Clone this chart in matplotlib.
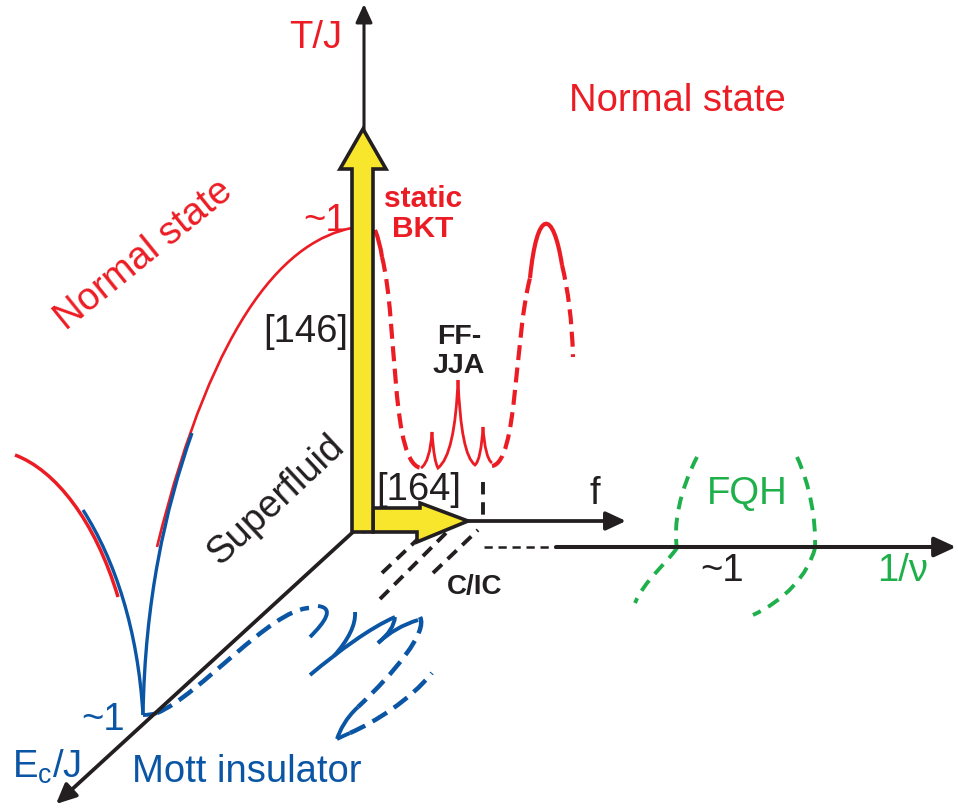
import numpy as np
import matplotlib.pyplot as plt
from matplotlib.path import Path
from matplotlib.patches import PathPatch, Polygon, FancyArrowPatch

plt.rcParams['font.family'] = ['Liberation Sans', 'DejaVu Sans']
plt.rcParams['mathtext.fontset'] = 'custom'
plt.rcParams['mathtext.rm'] = 'Liberation Sans'

RED = '#ec1c24'
BLUE = '#0b55a5'
GREEN = '#1fb04b'
YEL = '#f7e62c'
INK = '#231f20'

# schematic drawn in pixel coordinates of the original figure (y downwards)
tj_axis = [(364, 532), (364, 4)]
f_axis = [(468, 521), (626, 521)]
nu_axis = [(556, 547), (956, 547)]
nu_dash = [(484, 547), (556, 547)]
ec_axis = [(353, 532), (56, 804)]

yellow_up = [(352, 532), (352, 169), (340, 169), (363, 129), (386, 169),
             (373, 169), (373, 532)]
yellow_right = [(373, 508), (420, 508), (420, 503), (468, 521), (417, 542),
                (417, 532), (373, 532)]

# red phase boundaries (bezier control points)
red_arc = [(352, 228), (290, 240), (215, 310), (157, 547)]
red_left = [(15, 455), (55, 470), (95, 520), (118, 597)]
red_bkt_top = [(375, 230), (380, 242), (382, 257)]
red_dash_l = [(382, 257), (398, 320), (390, 470), (423, 468)]
red_cusps = [(421, 468), (430, 462), (432, 432), (434, 462), (438, 468),
             (455, 455), (458, 380), (461, 455), (475, 465),
             (481, 460), (483, 427), (485, 458), (492, 463)]
red_dash_r = [(492, 466), (518, 462), (514, 340), (530, 278)]
red_peak = [(530, 278), (537, 208), (553, 208), (562, 265)]
red_dash_end = [(562, 265), (568, 290), (572, 320), (573, 357)]

# blue Mott boundaries
blue_right = [(192, 433), (165, 510), (145, 600), (143, 715)]
blue_left = [(83, 510), (115, 560), (138, 630), (143, 715)]
blue_foot = [(143, 715), (150, 715), (157, 713)]
blue_dash = [(157, 713), (200, 695), (270, 610), (309, 608)]
blue_hook = [(310, 637), (325, 622), (335, 608), (318, 606)]
blue_long = [(310, 675), (340, 650), (370, 628), (395, 617)]
blue_cusp = [(355, 612), (356, 625), (348, 640), (334, 656)]
blue_d = [(395, 617), (394, 630), (378, 643)]
blue_e = [(378, 643), (395, 627), (418, 620)]
blue_dash_up = [(420, 617), (428, 632), (395, 672), (358, 707)]
blue_tip = [(358, 707), (346, 718), (340, 730), (337, 739)]
blue_tip2 = [(337, 739), (343, 736), (350, 733)]
blue_dash_low = [(350, 733), (375, 722), (410, 700), (432, 673)]

# green FQH boundaries
green_l1 = [(697, 457), (680, 490), (673, 525), (677, 548)]
green_l2 = [(677, 548), (665, 565), (645, 580), (635, 603)]
green_r1 = [(797, 457), (810, 485), (816, 520), (815, 548)]
green_r2 = [(815, 548), (808, 575), (785, 600), (753, 615)]

# black commensurate/incommensurate dashes
cic_lines = [[(380, 599), (452, 527)], [(382, 573), (420, 537)],
             [(433, 573), (478, 530)]]
cic_vert = [(483, 482), (483, 520)]

fig = plt.figure(figsize=(9.58, 8.09), dpi=100)
ax = fig.add_axes([0, 0, 1, 1])
ax.set_xlim(0, 958)
ax.set_ylim(809, 0)
ax.axis('off')


def curve(pts, color, lw, ls='-', kind=4, z=3):
    n = len(pts)
    if kind == 2:
        codes = [Path.MOVETO] + [Path.LINETO] * (n - 1)
    elif kind == 3:
        codes = [Path.MOVETO] + [Path.CURVE3] * (n - 1)
    else:
        codes = [Path.MOVETO] + [Path.CURVE4] * (n - 1)
    p = PathPatch(Path(pts, codes), fill=False, edgecolor=color, lw=lw,
                  linestyle=ls, capstyle='butt', zorder=z)
    ax.add_patch(p)


def arrow(p0, p1, lw, hl, hw):
    a = FancyArrowPatch(p0, p1, arrowstyle=f'-|>,head_length={hl},head_width={hw}',
                        mutation_scale=20, lw=lw, color=INK,
                        shrinkA=0, shrinkB=0, zorder=4)
    ax.add_patch(a)


# axes
arrow(tj_axis[0], tj_axis[1], 2.2, 0.55, 0.25)
arrow(f_axis[0], f_axis[1], 2.7, 0.6, 0.28)
arrow(nu_axis[0], nu_axis[1], 2.9, 0.65, 0.3)
arrow(ec_axis[0], ec_axis[1], 2.7, 0.6, 0.28)
curve(nu_dash, INK, 1.8, (0, (3.3, 2.3)), kind=2, z=4)

# yellow arrows
ax.add_patch(Polygon(yellow_right, closed=True, fc=YEL, ec=INK, lw=2.6,
                     joinstyle='miter', zorder=5))
ax.add_patch(Polygon(yellow_up, closed=True, fc=YEL, ec=INK, lw=2.6,
                     joinstyle='miter', zorder=5))

# red
rdash = (0, (3.6, 1.8))
curve(red_arc, RED, 1.9)
curve(red_left, RED, 2.5)
curve(red_bkt_top, RED, 3.0, kind=3)
curve(red_dash_l, RED, 3.0, rdash)
curve(red_cusps, RED, 2.0, kind=3)
curve(red_dash_r, RED, 3.0, rdash)
curve(red_peak, RED, 3.0)
curve(red_dash_end, RED, 3.0, rdash)

# blue
bdash = (0, (3.8, 1.9))
curve(blue_right, BLUE, 2.4, z=4)
curve(blue_left, BLUE, 2.4, z=4)
curve(blue_foot, BLUE, 2.8, kind=3)
curve(blue_dash, BLUE, 3.2, bdash)
curve(blue_hook, BLUE, 2.8)
curve(blue_long, BLUE, 2.8)
curve(blue_cusp, BLUE, 2.8)
curve(blue_d, BLUE, 2.8, kind=3)
curve(blue_e, BLUE, 2.8, kind=3)
curve(blue_dash_up, BLUE, 3.2, bdash)
curve(blue_tip, BLUE, 2.8)
curve(blue_tip2, BLUE, 2.8, kind=3)
curve(blue_dash_low, BLUE, 3.2, bdash)

# green
for g in (green_l1, green_l2, green_r1, green_r2):
    curve(g, GREEN, 2.8, (0, (3.3, 2.2)))

# black dashes
for seg in cic_lines:
    curve(seg, INK, 2.8, (0, (3.2, 2.0)), kind=2)
curve(cic_vert, INK, 2.8, (0, (3.2, 2.0)), kind=2)

# labels
txt = dict(ha='center', va='center', fontsize=27.5)
ax.text(316, 38, 'T/J', color=RED, **txt)
ax.text(677, 101, 'Normal state', color=RED, **txt)
ax.text(144, 255, 'Normal state', color=RED, rotation=39, **txt)
ax.text(325, 221, '~1', color=RED, **txt)
ax.text(423, 214, 'static\nBKT', color=RED, ha='center', va='center',
        fontsize=21.5, fontweight='bold', linespacing=1.05)
ax.text(306, 332, '[146]', color=INK, **txt)
ax.text(459, 351, 'FF-\nJJA', color=INK, ha='center', va='center',
        fontsize=20.5, fontweight='bold', linespacing=1.15)
ax.text(419, 490, '[164]', color=INK, **txt)
ax.text(595, 494, 'f', color=INK, **txt)
ax.text(276, 500, 'Superfluid', color=INK, rotation=43, **txt)
ax.text(475, 587, 'C/IC', color=INK, ha='center', va='center',
        fontsize=20, fontweight='bold')
ax.text(747, 494, 'FQH', color=GREEN, **txt)
ax.text(722, 571, '~1', color=INK, **txt)
ax.text(903, 571, '1/ν', color=GREEN, **txt)
ax.text(103, 720, '~1', color=BLUE, **txt)
ax.text(47, 767, r'E$\mathregular{_c}$/J', color=BLUE, **txt)
ax.text(247, 772, 'Mott insulator', color=BLUE, **txt)

fig.savefig('out.png', dpi=100)
